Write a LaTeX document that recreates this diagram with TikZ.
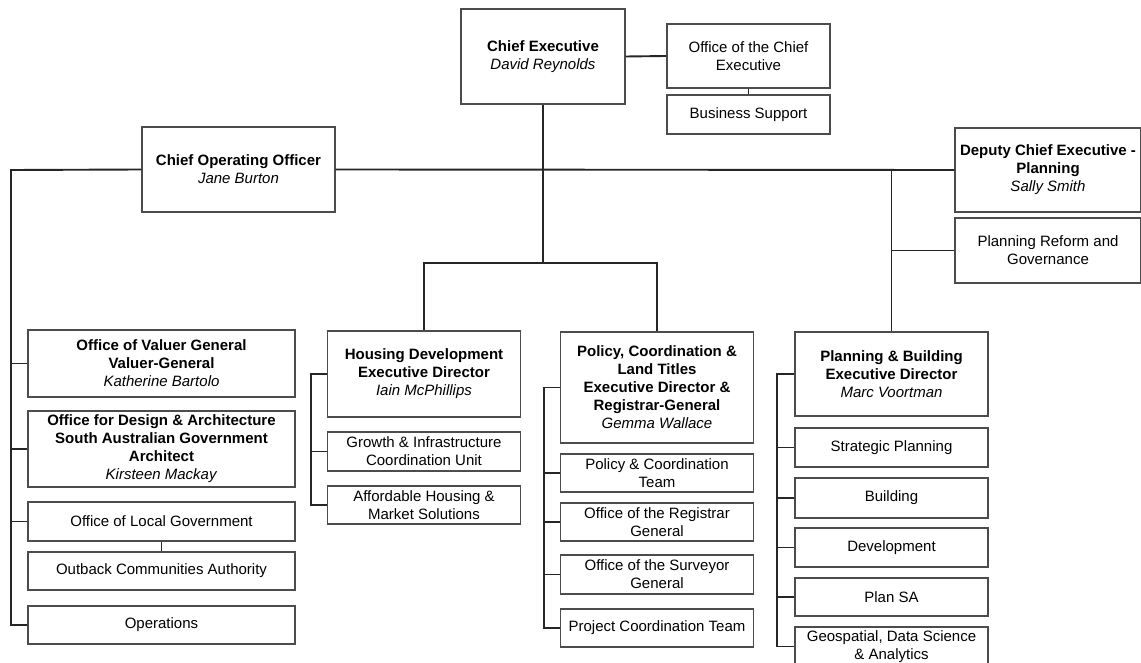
\documentclass[tikz,border=0pt]{standalone}
\usepackage{fontspec}
\setmainfont{Liberation Sans}
\usetikzlibrary{calc}
\tikzset{
  unit/.style={draw=black!70, line width=1.2pt, fill=white, align=center, inner sep=1pt, font=\fontsize{15}{18}\selectfont},
  lcol/.style={unit, minimum width=267pt},
  mcol/.style={unit, minimum width=193pt},
  link/.style={line width=1.9pt, black!85}
}

\begin{document}
\begin{tikzpicture}[x=1pt,y=-1pt]
		%%%%% START %%%%%
		\useasboundingbox (0,0) rectangle (1141,663);
		
		\coordinate (lspine) at (11,170);
		\coordinate (bar) at (543,263);
		
		% top level
		\node[unit, minimum width=164pt, minimum height=95pt] (ce) at (543,56.5) {\textbf{Chief Executive}\\\textit{David Reynolds}};
		\node[unit, minimum width=163pt, minimum height=64pt] (oce) at (748.5,56) {Office of the Chief\\Executive};
		\node[unit, minimum width=163pt, minimum height=39pt] (bs) at (748.5,114.5) {Business Support};
		
		\node[unit, minimum width=193pt, minimum height=85pt] (coo) at (238.5,169.5) {\textbf{Chief Operating Officer}\\\textit{Jane Burton}};
		\node[unit, minimum width=186pt, minimum height=84pt] (dce) at (1048,170) {\textbf{Deputy Chief Executive -}\\\textbf{Planning}\\\textit{Sally Smith}};
		\node[unit, minimum width=186pt, minimum height=65pt] (prg) at (1048,250.5) {Planning Reform and\\Governance};
		
		% left column
		\node[lcol, minimum height=67pt] (ovg) at (161.5,363.5) {\textbf{Office of Valuer General}\\\textbf{Valuer-General}\\\textit{Katherine Bartolo}};
		\node[lcol, minimum height=76pt] (oda) at (161.5,449) {\textbf{Office for Design \& Architecture}\\\textbf{South Australian Government}\\\textbf{Architect}\\\textit{Kirsteen Mackay}};
		\node[lcol, minimum height=39pt] (olg) at (161.5,521.5) {Office of Local Government};
		\node[lcol, minimum height=38pt] (oca) at (161.5,571) {Outback Communities Authority};
		\node[lcol, minimum height=38pt] (ops) at (161.5,625) {Operations};
		
		% housing
		\node[mcol, minimum height=86pt] (hd) at (424,374) {\textbf{Housing Development}\\\textbf{Executive Director}\\\textit{Iain McPhillips}};
		\node[mcol, minimum height=39pt] (gic) at (424,451.5) {Growth \& Infrastructure\\Coordination Unit};
		\node[mcol, minimum height=38pt] (ahm) at (424,505) {Affordable Housing \&\\Market Solutions};
		
		% policy
		\node[mcol, minimum height=111pt] (pcl) at (657,387.5) {\textbf{Policy, Coordination \&}\\\textbf{Land Titles}\\\textbf{Executive Director \&}\\\textbf{Registrar-General}\\\textit{Gemma Wallace}};
		\node[mcol, minimum height=38pt] (pct) at (657,473) {Policy \& Coordination\\Team};
		\node[mcol, minimum height=38pt] (org) at (657,522) {Office of the Registrar\\General};
		\node[mcol, minimum height=39pt] (osg) at (657,574.5) {Office of the Surveyor\\General};
		\node[mcol, minimum height=38pt] (pjt) at (657,628) {Project Coordination Team};
		
		% planning
		\node[mcol, minimum height=84pt] (pb) at (891.5,374) {\textbf{Planning \& Building}\\\textbf{Executive Director}\\\textit{Marc Voortman}};
		\node[mcol, minimum height=39pt] (sp) at (891.5,447.5) {Strategic Planning};
		\node[mcol, minimum height=40pt] (bld) at (891.5,498) {Building};
		\node[mcol, minimum height=39pt] (dev) at (891.5,547.5) {Development};
		\node[mcol, minimum height=38pt] (psa) at (891.5,597) {Plan SA};
		\node[mcol, minimum height=39pt] (geo) at (891.5,646.5) {Geospatial, Data Science\\\& Analytics};
		
		\draw[link] (ce.east) -- (oce.west);
		\draw[link] (oce.south) -- (bs.north);
		\draw[link] (ce.south) -- (bar);
		\draw[link] (coo.east) -- (dce.west);
		\draw[link] (coo.west) -- (lspine) |- (ops.west);
		\draw[link] (lspine |- ovg.west) -- (ovg.west);
		\draw[link] (lspine |- oda.west) -- (oda.west);
		\draw[link] (lspine |- olg.west) -- (olg.west);
		\draw[link] (olg.south) -- (oca.north);
		\draw[link] (hd.north) |- (bar) -| (pcl.north);
		\draw[link] (pb.north) |- (dce.west);
		\draw[link] (pb.north |- prg.west) -- (prg.west);
		
		\draw[link] (hd.west) -- ++(-16,0) |- (ahm.west);
		\draw[link] (gic.west) -- ++(-16,0);
		\draw[link] (pcl.west) -- ++(-16,0) |- (pjt.west);
		\foreach \n in {pct,org,osg}
			\draw[link] (\n.west) -- ++(-16,0);
		\draw[link] (pb.west) -- ++(-17,0) |- (geo.west);
		\foreach \n in {sp,bld,dev,psa}
			\draw[link] (\n.west) -- ++(-17,0);
		%%%%% END %%%%%
\end{tikzpicture}
\end{document}
